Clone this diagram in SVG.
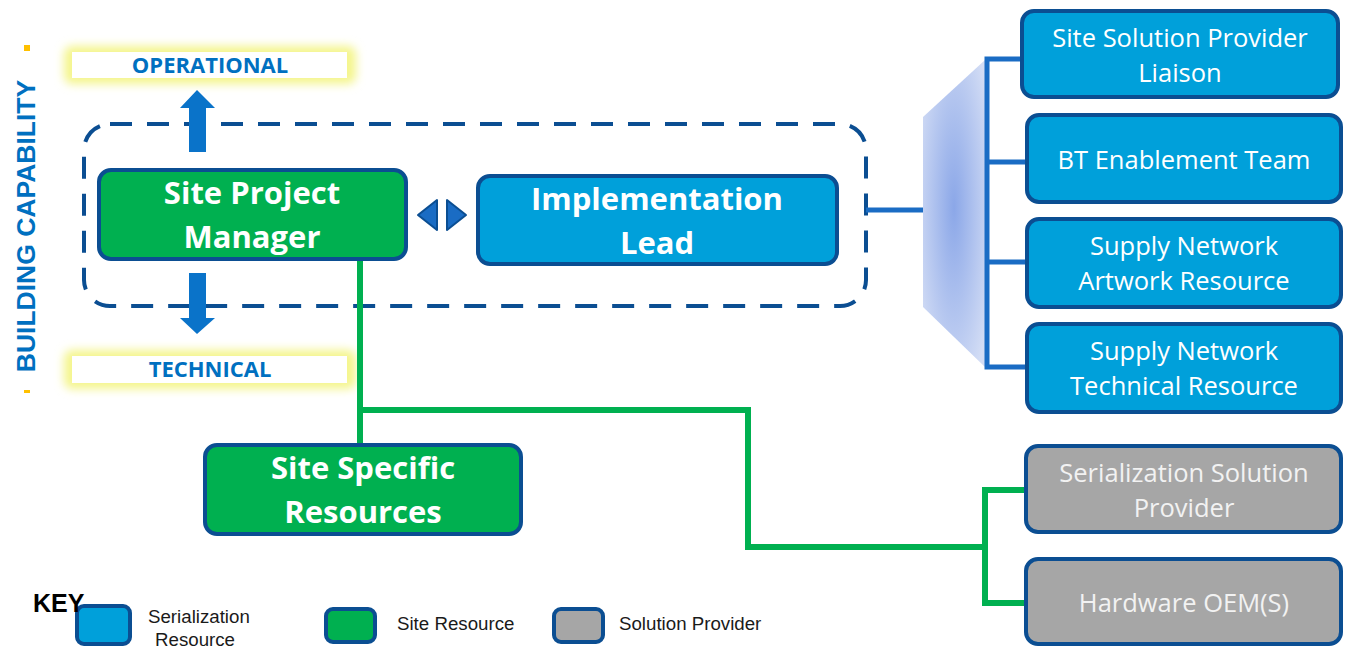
<svg xmlns="http://www.w3.org/2000/svg" width="1345" height="648" viewBox="0 0 1345 648">
  <defs>
    <filter id="glow" x="-20%" y="-80%" width="140%" height="260%">
      <feGaussianBlur stdDeviation="5"/>
    </filter>
    <radialGradient id="funnelFill" cx="0.5" cy="0.48" r="0.65">
      <stop offset="0" stop-color="#8BA7E8"/>
      <stop offset="1" stop-color="#D3DDF5"/>
    </radialGradient>
    <style>
      .box { stroke: #0B4E92; stroke-width: 4; }
      .blue { fill: #00A0DA; }
      .green { fill: #00B050; }
      .gray { fill: #A6A6A6; }
      .big { font-family: "Open Sans", "Liberation Sans", sans-serif; font-weight: bold; font-size: 31px; fill: #FFFFFF; text-anchor: middle; }
      .small { font-family: "Open Sans", "Liberation Sans", sans-serif; font-size: 25.5px; fill: #FFFFFF; text-anchor: middle; }
      .smallgray { font-family: "Open Sans", "Liberation Sans", sans-serif; font-size: 25.5px; fill: #F2F2F2; text-anchor: middle; }
      .tag { font-family: "Open Sans", "Liberation Sans", sans-serif; font-weight: bold; font-size: 22px; fill: #0070C0; text-anchor: middle; }
      .key { font-family: "Liberation Sans", Arial, sans-serif; font-size: 18.7px; fill: #1A1A1A; }
      .bluelink { stroke: #1A6CC4; stroke-width: 5; fill: none; }
      .greenlink { stroke: #00B050; stroke-width: 6; fill: none; }
      .arrow { fill: #0A73C9; }
    </style>
  </defs>

  <!-- vertical side label -->
  <g id="side-label">
    <rect x="24" y="45" width="6" height="6" fill="#FFC000"/>
    <rect x="24" y="390" width="6" height="3" fill="#FFC000"/>
    <text transform="translate(35,226) rotate(-90)" font-family="Liberation Sans, Arial, sans-serif" font-weight="bold" font-size="26.5" fill="#0070C0" text-anchor="middle">BUILDING CAPABILITY</text>
  </g>

  <!-- capability tags with soft highlight -->
  <g id="operational">
    <rect x="64" y="46" width="292" height="38" rx="8" fill="#F4F58C" filter="url(#glow)"/>
    <rect x="72" y="52" width="275" height="26" fill="#FFFFFF"/>
    <text class="tag" x="210" y="73">OPERATIONAL</text>
  </g>
  <g id="technical">
    <rect x="64" y="350" width="292" height="39" rx="8" fill="#F4F58C" filter="url(#glow)"/>
    <rect x="72" y="356" width="275" height="27" fill="#FFFFFF"/>
    <text class="tag" x="210" y="377">TECHNICAL</text>
  </g>

  <!-- dashed core team boundary -->
  <g id="core-team">
    <rect x="84" y="124" width="782" height="182" rx="26" fill="none" stroke="#0B4E92" stroke-width="4" stroke-dasharray="22 15"/>
  </g>

  <!-- up / down block arrows -->
  <g id="arrow-up">
    <polygon class="arrow" points="189,152 189,108 180,108 197,90 215,108 206,108 206,152"/>
  </g>
  <g id="arrow-down">
    <polygon class="arrow" points="189,273 206,273 206,318 215,318 197,334 180,318 189,318"/>
  </g>

  <!-- funnel backdrop for the serialization team -->
  <g id="funnel">
    <polygon points="923,117 985,60 985,367 923,307" fill="url(#funnelFill)"/>
  </g>

  <!-- connectors -->
  <g id="connectors">
    <path class="bluelink" d="M866,210 H923"/>
    <path class="bluelink" d="M1021,59 H987 V367 H1026"/>
    <path class="bluelink" d="M987,162 H1026"/>
    <path class="bluelink" d="M987,262 H1026"/>
    <path class="greenlink" d="M360,260 V444"/>
    <path class="greenlink" d="M360,410 H748 V547 H985"/>
    <path class="greenlink" d="M1025,490 H985 V603 H1025"/>
    <!-- two-way link between manager and lead -->
    <polygon points="437,200 437,230 418,215" fill="#1A6CC4" stroke="#0B4E92" stroke-width="2" stroke-linejoin="round"/>
    <polygon points="447,200 447,230 466,215" fill="#1A6CC4" stroke="#0B4E92" stroke-width="2" stroke-linejoin="round"/>
  </g>

  <g id="site-project-manager">
    <rect class="box green" x="99" y="170" width="307" height="89" rx="12"/>
    <text class="big" x="252" y="204">Site Project</text>
    <text class="big" x="252" y="248">Manager</text>
  </g>

  <g id="implementation-lead">
    <rect class="box blue" x="478" y="176" width="359" height="88" rx="12"/>
    <text class="big" x="657" y="210">Implementation</text>
    <text class="big" x="657" y="254">Lead</text>
  </g>

  <g id="site-specific-resources">
    <rect class="box green" x="205" y="445" width="316" height="89" rx="12"/>
    <text class="big" x="363" y="479">Site Specific</text>
    <text class="big" x="363" y="523">Resources</text>
  </g>

  <g id="site-solution-provider-liaison">
    <rect class="box blue" x="1022" y="11" width="316" height="86" rx="12"/>
    <text class="small" x="1180" y="47">Site Solution Provider</text>
    <text class="small" x="1180" y="82">Liaison</text>
  </g>

  <g id="bt-enablement-team">
    <rect class="box blue" x="1027" y="115" width="314" height="87" rx="12"/>
    <text class="small" x="1184" y="169">BT Enablement Team</text>
  </g>

  <g id="supply-network-artwork">
    <rect class="box blue" x="1027" y="219" width="314" height="88" rx="12"/>
    <text class="small" x="1184" y="255">Supply Network</text>
    <text class="small" x="1184" y="290">Artwork Resource</text>
  </g>

  <g id="supply-network-technical">
    <rect class="box blue" x="1027" y="324" width="314" height="88" rx="12"/>
    <text class="small" x="1184" y="360">Supply Network</text>
    <text class="small" x="1184" y="395">Technical Resource</text>
  </g>

  <g id="serialization-solution-provider">
    <rect class="box gray" x="1026" y="446" width="315" height="86" rx="12"/>
    <text class="smallgray" x="1184" y="482">Serialization Solution</text>
    <text class="smallgray" x="1184" y="517">Provider</text>
  </g>

  <g id="hardware-oem">
    <rect class="box gray" x="1026" y="559" width="315" height="85" rx="12"/>
    <text class="smallgray" x="1184" y="612">Hardware OEM(S)</text>
  </g>

  <!-- legend -->
  <g id="key">
    <rect class="box blue" x="77" y="606" width="53" height="38" rx="7"/>
    <text x="33" y="612" font-family="Liberation Sans, Arial, sans-serif" font-weight="bold" font-size="25" fill="#000000">KEY</text>
    <text class="key" x="148" y="623">Serialization</text>
    <text class="key" x="155" y="646">Resource</text>
    <rect class="box green" x="326" y="609" width="49" height="33" rx="7"/>
    <text class="key" x="397" y="630">Site Resource</text>
    <rect class="box gray" x="554" y="609" width="49" height="33" rx="7"/>
    <text class="key" x="619" y="630">Solution Provider</text>
  </g>
</svg>
